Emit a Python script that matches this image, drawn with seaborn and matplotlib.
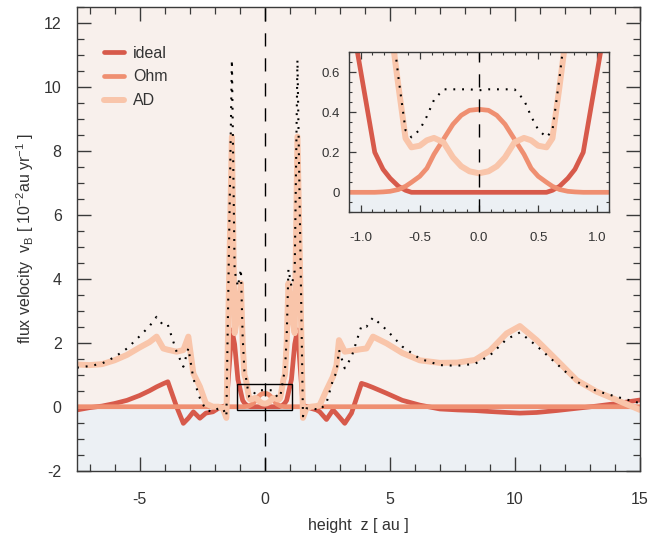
import numpy as np
import pandas as pd
import matplotlib
matplotlib.use("Agg")
import matplotlib.pyplot as plt
import seaborn as sns
from matplotlib.patches import Rectangle
from matplotlib.ticker import MultipleLocator

# ---------------- data ----------------
z = [-7.5, -7.0, -6.5, -6.0, -5.5, -5.0, -4.6, -4.32, -4.05, -3.87, -3.52, -3.25,
     -3.05, -2.85, -2.59, -2.35, -2.07, -1.85, -1.67, -1.53, -1.31, -1.2, -1.07,
     -0.95, -0.88, -0.81, -0.75, -0.68, -0.62, -0.57, -0.5, -0.44, -0.38, -0.3,
     -0.22, -0.15, -0.08, 0.0, 0.08, 0.15, 0.22, 0.3, 0.38, 0.44, 0.5, 0.57, 0.62,
     0.68, 0.75, 0.81, 0.88, 0.95, 1.07, 1.2, 1.31, 1.53, 1.67, 1.85, 2.07, 2.2,
     2.47, 2.73, 2.87, 2.97, 3.2, 3.47, 3.87, 4.07, 4.33, 4.87, 5.5, 6.2, 7.0, 7.7,
     8.4, 9.0, 9.67, 10.2, 10.87, 11.67, 12.47, 13.27, 14.07, 15.0]

ideal = [-0.1, -0.03, 0.02, 0.1, 0.2, 0.35, 0.5, 0.62, 0.72, 0.78, 0.0, -0.52,
         -0.36, -0.16, -0.36, -0.2, -0.16, -0.05, 0.0, 0.05, 2.4, 1.95, 0.85,
         0.44, 0.2, 0.115, 0.07, 0.03, 0.01, 0.0, 0.0, 0.0, 0.0, 0.0,
         0.0, 0.0, 0.0, 0.0, 0.0, 0.0, 0.0, 0.0, 0.0, 0.0, 0.0, 0.0, 0.01,
         0.03, 0.07, 0.115, 0.2, 0.44, 0.85, 1.95, 2.4, 0.05, 0.0, -0.05, -0.1, -0.16,
         -0.4, -0.1, -0.22, -0.31, -0.52, -0.2, 0.73, 0.68, 0.6, 0.42, 0.2, 0.05, -0.07, -0.1,
         -0.12, -0.15, -0.18, -0.2, -0.18, -0.12, -0.05, 0.02, 0.1, 0.21]

ohm = [0.0, 0.0, 0.0, 0.0, 0.0, 0.0, 0.0, 0.0, 0.0, 0.0, 0.0, 0.0,
       0.0, 0.0, 0.0, 0.0, 0.0, 0.0, 0.0, 0.0, 0.0, 0.0, 0.0,
       0.0, 0.0, 0.002, 0.005, 0.014, 0.03, 0.05, 0.08, 0.12, 0.19, 0.265,
       0.34, 0.385, 0.41, 0.415, 0.41, 0.385, 0.34, 0.265, 0.19, 0.12, 0.08, 0.05, 0.03,
       0.014, 0.005, 0.002, 0.0, 0.0, 0.0, 0.0, 0.0, 0.0, 0.0, 0.0, 0.0, 0.0,
       0.0, 0.0, 0.0, 0.0, 0.0, 0.0, 0.0, 0.0, 0.0, 0.0, 0.0, 0.0, 0.0, 0.0,
       0.0, 0.0, 0.0, 0.0, 0.0, 0.0, 0.0, 0.0, 0.0, 0.0]

ad = [1.32, 1.3, 1.33, 1.45, 1.62, 1.85, 2.02, 2.19, 1.82, 1.78, 1.72, 1.77,
      2.19, 1.04, 0.63, 0.1, 0.0, 0.0, -0.05, -0.35, 8.44, 2.3, 2.9,
      3.86, 2.0, 1.0, 0.85, 0.53, 0.27, 0.225, 0.233, 0.26, 0.272, 0.25,
      0.175, 0.13, 0.105, 0.095, 0.105, 0.13, 0.175, 0.25, 0.272, 0.26, 0.233, 0.225, 0.27,
      0.53, 0.85, 1.0, 2.0, 3.86, 2.9, 2.3, 8.44, -0.35, -0.05, 0.0, 0.02, 0.05,
      0.52, 0.94, 1.3, 2.08, 1.72, 1.75, 1.8, 1.82, 2.19, 1.98, 1.68, 1.45, 1.37, 1.38,
      1.46, 1.75, 2.29, 2.52, 2.08, 1.46, 0.83, 0.47, 0.21, -0.1]

labels = ["ideal", "Ohm", "AD"]

# ---------------- style ----------------
sns.set_style("ticks")
plt.rcParams["font.family"] = ["Liberation Sans", "DejaVu Sans"]
plt.rcParams["mathtext.fontset"] = "custom"
plt.rcParams["mathtext.rm"] = "Liberation Sans"
plt.rcParams["mathtext.it"] = "Liberation Sans"

C_IDEAL = "#d75a4b"
C_OHM = "#ef8f71"
C_AD = "#f9c5aa"
BG_TOP = "#f8f0ec"
BG_BOT = "#ecf0f4"
AX_COL = "#3a3a3a"
TXT_COL = "#333333"

df = pd.DataFrame({"z": z, "ideal": ideal, "Ohm": ohm, "AD": ad})
df["total"] = df["ideal"] + df["Ohm"] + df["AD"]

fig = plt.figure(figsize=(6.52, 5.36), dpi=100)
ax = fig.add_axes([0.1181, 0.1218, 0.8635, 0.8657])
axi = fig.add_axes([0.5348, 0.6039, 0.3997, 0.2985])

series = [(labels[0], C_IDEAL, 3.4), (labels[1], C_OHM, 3.4), (labels[2], C_AD, 4.3)]


def draw(a, xlim, ylim, legend):
    a.set_facecolor(BG_TOP)
    a.axhspan(ylim[0], 0, color=BG_BOT, lw=0, zorder=0)
    for i, (name, col, lw) in enumerate(series):
        sns.lineplot(data=df, x="z", y=name, ax=a, color=col, lw=lw,
                     estimator=None, sort=False,
                     label=name if legend else None, zorder=2 + i)
    sns.lineplot(data=df, x="z", y="total", ax=a, color="black", lw=1.5,
                 estimator=None, sort=False, zorder=6,
                 linestyle=(0, (0.9, 3.3)))
    a.axvline(0, color="black", lw=1.0, linestyle=(0, (9.5, 8.5)), zorder=7)
    a.set_xlim(*xlim)
    a.set_ylim(*ylim)
    a.set_xlabel("")
    a.set_ylabel("")
    for s in a.spines.values():
        s.set_color(AX_COL)
        s.set_linewidth(1.0)
        s.set_visible(True)
        s.set_zorder(10)


draw(ax, (-7.5, 15), (-2.0, 12.5), True)
draw(axi, (-1.1, 1.1), (-0.1, 0.7), False)

# main ticks
ax.xaxis.set_major_locator(MultipleLocator(5))
ax.xaxis.set_minor_locator(MultipleLocator(1))
ax.yaxis.set_major_locator(MultipleLocator(2))
ax.yaxis.set_minor_locator(MultipleLocator(0.5))
ax.tick_params(which="both", direction="in", top=True, right=True,
               color=AX_COL, labelcolor=TXT_COL, labelsize=11.5)
ax.tick_params(which="major", length=10, width=1.0, pad=15)
ax.tick_params(which="minor", length=5, width=0.9)
ax.tick_params(axis="y", which="major", pad=11)
ax.set_xticks([-5, 0, 5, 10, 15])
ax.set_xticklabels(["-5", "0", "5", "10", "15"])
ax.set_yticks([-2, 0, 2, 4, 6, 8, 10, 12])
ax.set_yticklabels(["-2", "0", "2", "4", "6", "8", "10", "12"])

ax.set_xlabel("height  z [ au ]", fontsize=11.5, color=TXT_COL, labelpad=8)
ax.set_ylabel(r"flux velocity  v$_\mathregular{B}$ [ 10$^\mathregular{-2}$au yr$^\mathregular{-1}$ ]",
              fontsize=11.5, color=TXT_COL, labelpad=6)

# inset box on main axes
ax.add_patch(Rectangle((-1.1, -0.1), 2.2, 0.8, fill=False, ec="black",
                       lw=1.0, zorder=8))

# inset ticks
axi.xaxis.set_major_locator(MultipleLocator(0.5))
axi.xaxis.set_minor_locator(MultipleLocator(0.1))
axi.yaxis.set_major_locator(MultipleLocator(0.2))
axi.yaxis.set_minor_locator(MultipleLocator(0.05))
axi.tick_params(which="both", direction="in", top=True, right=True,
                color=AX_COL, labelcolor=TXT_COL, labelsize=9.5)
axi.tick_params(which="major", length=5, width=0.9, pad=14)
axi.tick_params(which="minor", length=2.5, width=0.8)
axi.tick_params(axis="y", which="major", pad=6)
axi.set_xticks([-1.0, -0.5, 0.0, 0.5, 1.0])
axi.set_xticklabels(["-1.0", "-0.5", "0.0", "0.5", "1.0"])
axi.set_yticks([0, 0.2, 0.4, 0.6])
axi.set_yticklabels(["0", "0.2", "0.4", "0.6"])

# legend
leg = ax.legend(loc="upper left", bbox_to_anchor=(0.048, 0.916), frameon=False,
                fontsize=11.5, handlelength=1.25, handletextpad=0.55,
                labelspacing=0.55, borderpad=0, borderaxespad=0)
for t in leg.get_texts():
    t.set_color(TXT_COL)

fig.savefig("out.png", dpi=100)
